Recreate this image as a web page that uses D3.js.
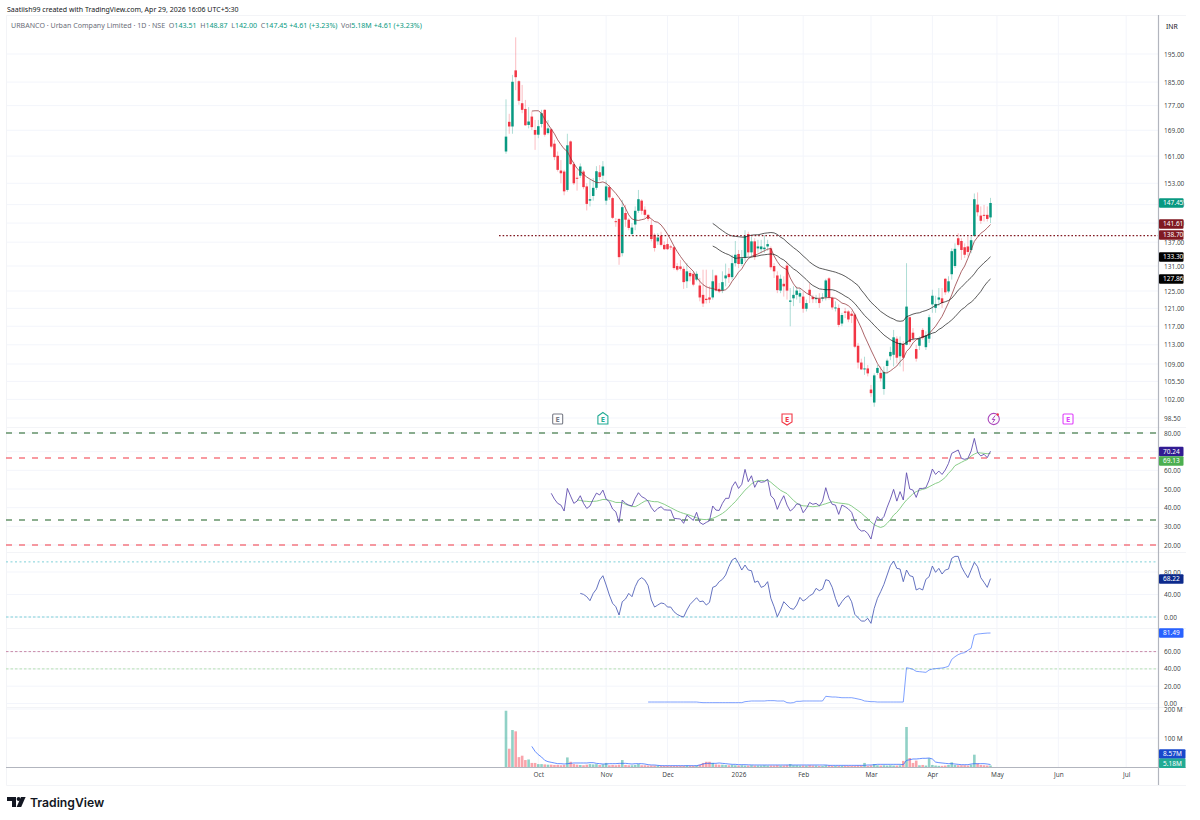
<!DOCTYPE html>
<html><head><meta charset="utf-8">
<script src="https://cdn.jsdelivr.net/npm/d3@7/dist/d3.min.js"></script>
<style>html,body{margin:0;padding:0;background:#fff}svg{display:block}text{font-family:"Noto Sans",sans-serif}</style>
</head><body><svg id="c" width="1200" height="820"></svg>
<script>
// ---- candles ----
const opens=[162.4,171.7,170.2,189.1,185.3,177.8,175.9,170.7,173.4,169.1,
167.6,171,175.6,168.1,169.3,164.8,161.1,156.7,156.4,151.1,
165.5,158.6,154.6,155.2,156.4,152.1,148.1,149.4,151.7,156.2,
155.2,148.1,151.9,148.8,142.5,143.1,134.2,144.7,142.9,139.1,
141.6,145.3,148.1,145.6,144.2,141.5,138.9,137.2,138.7,136.3,
136.5,135.9,135.7,131,130.9,130.3,127.3,129.3,129.1,127.7,
126.3,124.1,123.2,123.5,123.5,128.7,125.5,125.1,128,129.1,
128.3,131.7,134,131.5,133.1,139.1,134.4,137.2,135.4,135.2,
135.2,135.9,135.4,131,128.7,125.1,126.7,131.1,122.5,123.3,
124.1,123.7,123.7,120.9,125.3,123.6,123.1,123.2,123.2,123.5,
128,123.4,121,121.1,117.6,120.3,120.3,119.8,119.6,112.8,
109.3,107.9,108.1,103.9,101.4,107.2,107.2,104,108.6,110.6,
110.9,114.3,110.6,113.2,113,119,115.6,112.1,112.8,116.2,
112.5,114.3,121.9,121.1,123,123.3,127.9,124.9,129,131,
138,137.3,135.7,135.9,135,138.6,147,144,144.2,144.2,143.51];
const highs=[179.1,174.3,187.5,201.2,185.7,184,178.9,176.5,175,172.3,
172.3,175.6,175.8,172.3,169.6,166,162.4,159.8,156.9,167.9,
165.8,159.3,156.9,158.8,156.9,153,154,154.5,158,158.3,
159.5,153.8,152.5,149.2,143.3,143.3,148.3,146.9,143.3,142,
146.5,151.1,148.5,146.5,144.4,142.9,139.3,139.3,139.7,137.2,
138,136.3,135.9,131.7,132.5,130.9,131.7,129.9,129.7,129.7,
128.1,130.1,130.1,126.1,130.1,128.9,126.9,129.7,131.6,130.5,
133.8,137.3,135,135,140.1,139.7,138.4,138,137.6,137.6,
138.8,137.6,135.9,131.7,129.7,128.9,128.5,132.1,125.7,126.1,
126.1,125.7,124.9,123,126.9,124.1,124.1,124.5,124.5,127.9,
128.3,123.7,122.6,121.9,120,121.1,120.6,120.4,120,113.4,
110.1,110.5,108.8,104.8,107.1,108.8,108.5,108.5,110.1,112.6,
116.2,114.8,114.8,113.8,131.7,119.2,116.6,113,114.8,116.6,
115.9,119.6,125.3,123.9,125.7,125.7,128.1,128.5,135.4,136.7,
139.3,138,136.7,138.4,138.4,150.1,150.4,146.5,146.9,146.5,148.87];
const lows=[161.7,167.9,167.9,182.2,177.3,174.5,170.4,169.6,169.1,162.9,
166.5,169.9,167,167.6,163.4,159.8,156.4,153,149.6,150.6,
158.3,152.5,150.9,154.5,151.3,145.4,146.5,148.1,151.1,153.8,
154,146.9,148.3,143.1,141,131.3,133.4,141,140.1,138.6,
140.1,144.7,144.3,143.4,142.5,137.2,134.6,136.3,135.9,135,
135,135,130.1,129.7,129.9,125.5,125.7,127.3,126.1,127.3,
122.6,121.3,122.1,122.2,123,124.9,124.5,124.5,126.1,126.9,
127.7,130.9,130.5,131,132.1,133.4,133.2,132.5,134.3,134.2,
134.3,134.8,130.1,128.1,124.5,124.5,123.7,123,117,121.5,
123,122.2,120,120.3,122.2,122.2,122.2,121.1,122.6,122.8,
123,120.7,120.3,116.8,117,118.8,117.9,117.7,112.3,108.1,
107.8,106.8,106.5,102.5,100.6,106.8,105.5,102.9,107.1,109.8,
108.5,109.1,108.5,107.5,112.9,113,113.8,109.5,111.9,114.1,
111.9,113.4,120,120,121.5,121.1,124.1,124.5,127.7,130.5,
135.9,132.5,133,133.4,134.2,138.4,143.8,141.8,142.4,142.4,142];
const closes=[167,170.2,185.1,186.7,178.6,175.6,170.6,171.8,170,167.6,
170.3,174.5,167.6,169.6,163.9,160.7,156.9,155.9,150.7,164.3,
158.6,153,154.3,157.9,151.9,147.2,148.5,151.7,156.5,154.8,
157.9,152.1,149,143.4,142.3,133.2,146.3,142.9,140.7,140.8,
145.3,148.5,145.3,144.2,143.1,137.8,135.5,138.2,136.3,135.2,
135.2,135.7,130.5,130.1,130.3,127.1,129.7,128.5,126.5,129.1,
123.5,122.1,122.9,123,127.3,125.1,124.9,127.1,128.7,128.3,
131.7,133.8,131.5,132.9,138.6,134.4,137.2,133.2,135.9,135.9,
135.6,136.5,130.7,129.7,125.2,127.9,126.1,125.1,122.8,124.1,
125.1,124.5,120.9,122.2,124.1,123.1,123.4,122.2,123.5,127.5,
123.5,121.2,121.2,117.3,119.5,120,118.5,119.3,112.6,109.3,
107.9,108.1,107.1,103.2,106.7,108.2,106.1,107.4,109.7,111.5,
114.6,110.3,113.4,110.3,121.4,113.6,114.3,110.1,114.3,114.5,
115,119,123.9,122,123.5,122.2,124.7,127.3,134.7,135.3,
136.3,135,133.8,134.5,137.5,148.5,144.9,142.6,144,143.1,147.45];
const volumes=[194,63,127.5,123,34,39,24,26,14,14,
10,10,9,8,8,7,7,6,7,33,
18,10,8,7,6,8,10,9,10,7,
9,14,6,7,6,8,24,7,6,6,
7,10,6,6,5,5,5,5,4,4,
4,4,4,4,4,4,5,4,4,5,
8,14,18,18,14,9,8,8,7,6,
7,6,5,6,5,5,6,5,5,5,
6,5,5,5,6,5,5,6,10,6,
6,5,5,5,6,5,5,4,4,6,
5,4,4,4,4,4,4,4,4,5,
5,14,4,5,10,6,5,6,5,6,
5,5,6,21,138,31,14,22,6,7,
5,30,7,5,4,4,5,7,16,7,
6,6,6,5,8,42.5,12,7,6,5,5.18];

// ---- overlays (first value belongs to candle number given by *First, 1-based) ----
const fastMaFirst=9;
const fastMa=[175.2,175.3,175.3,174.5,172.5,170.9,169.4,167.9,166,164.5,
163.2,162.4,160.4,158.8,157.3,156.4,155.6,154.8,154.2,153.7,
153.2,153.2,153.4,153,152.1,151.1,150.1,148.9,147.6,146,
144.2,143.1,142.8,142.7,142.9,143.1,143.8,143.1,142.4,142.2,
141.5,140.4,139.1,137.6,136,134.6,133.4,132.3,131.3,130.5,
129.7,128.3,127.3,126.5,126,125.7,125.6,125.3,125.1,125.1,
125.3,126,127.3,128.3,129.5,130.3,131.7,132.8,133.4,133.7,
134,134.4,134.8,135.2,135.4,133.5,132.1,131,130.5,130.1,
128.1,126.7,125.7,125.7,125.1,124.5,124.1,123.6,123.3,123.3,
123.4,123.4,123.5,123.4,123.3,122.8,122.2,122,121.6,120.9,
119.6,118.1,116.6,114.9,113.4,111.9,110.5,109.1,108.1,107.2,
107.2,107.6,108.1,108.6,109.5,110.1,111.6,112.3,113.4,114.1,
114.3,114.6,114.9,115.4,116.2,117,118.1,119.2,120.7,122.3,
124.1,126.1,127.9,129.7,131,132.9,135,137.2,138.3,139.3,139.9,140.7,141.61];
const slowFirst=65;
const slowUpper=[141.9,141.3,140.6,140,139.4,138.9,138.6,138.5,138.4,138.3,
138.3,138.6,138.8,138.9,138.9,139.1,139.3,139.4,139.5,139.4,
139,138.3,137.8,137,136.3,135.6,135,134.3,133.5,132.8,
132,131.4,130.9,130.5,130.3,130.1,129.9,129.7,129.5,129.2,
128.9,128.5,128,127.5,126.9,126.3,125.2,124.3,123.3,122.4,
121.7,121,120.3,119.8,119.3,118.9,118.6,118.2,118.1,118.2,
119.1,119.4,119.7,119.9,120,120.3,120.5,120.8,121.2,121.7,
121.9,122.3,122.5,122.8,123.3,124.2,125.2,125.9,126.7,127.5,
128.2,129.1,130.2,131,131.8,132.5,133.3];
const slowLower=[136,135.6,135,134.5,134.1,133.8,133.3,132.9,133,133.1,
133.1,133.2,133.2,133.4,133.5,133.7,133.8,133.9,134,133.9,
133.5,132.9,132.5,131.8,131,130.3,129.8,129.1,128.4,127.7,
126.9,126.3,125.9,125.5,125.4,125.3,125.3,125.3,125.1,124.7,
124.3,123.8,123.4,122.8,122.1,121.2,120.3,119.4,118.7,118,
117.2,116.5,115.8,115.1,114.6,114.1,113.7,113.4,113.2,113.1,
113.5,114,114.2,114.3,114.4,114.7,114.9,115.2,115.5,115.7,
116.3,116.7,117.3,117.8,118.4,119.1,119.9,120.7,121.2,121.9,
122.4,123.1,124,124.9,126.1,127.1,127.86];
const supportLevel=138.70;

// ---- RSI ----
const rsiFirst=15;
const rsi=[47.7,44.6,42.3,41.4,38.2,50.3,46.2,42.3,43.5,46.4,
42.3,39.6,40.9,44.6,47.8,46.8,49.4,44.6,43.2,39.3,
37.8,32.1,44.1,42.3,41.4,40.9,45,48,45.9,45,
43.5,40,37.8,39.6,40.5,38.9,38.7,38.7,34.3,34.1,
33.9,31.6,36,34.6,33.2,37.5,32.1,31,32.1,33,
40.9,38.7,38.5,42.3,45,45,51.2,53.9,50.3,52.5,
60.5,53.9,57.1,50.9,54.3,53.6,53.9,55.2,46.4,44.6,
39.1,43.2,46.4,41.4,38.2,39.6,42,41.8,37.3,39.6,
42.8,41.8,42.3,41,43.5,50.7,45,41.8,41.4,36.4,
41.4,40.5,39.3,37.5,32.5,28.9,27.5,27.7,26.2,23.2,
30.7,35.2,33.4,35.2,40.2,44.6,49.8,43.5,48.6,44.1,
58.7,50,49.4,45.5,50.3,50.3,50.7,54.8,60.7,57.8,
59.6,57.8,60.2,63.7,69.1,70,70.9,66.4,65.9,66.4,
70.3,77.1,69.5,67.7,68.6,66.8,70.24];
const rsiMaFirst=23;
const rsiMa=[44.1,43.9,43.5,43.4,43.2,43.4,43.5,43.9,44.4,44.3,
43.9,43.4,42.8,42.8,42.7,41.8,41.2,40.7,40.5,41.4,
42.5,43.5,43.9,43.4,43.2,43.2,42.5,41.8,40.9,40,
39.1,38.2,37.5,36.9,36.4,35.9,35.2,34.6,33.9,33.7,
33.6,33.9,34.3,35,35.9,36.9,38.2,39.8,41.6,43.2,
45.3,47.3,49.4,51,52.7,53.9,54.4,54.6,54.4,54.8,
53.6,52.1,50.7,49.3,48.4,47.5,45.7,43.9,42.5,41.4,
41,40.9,40.7,40.5,40.7,41,41.6,42.1,42.7,43.2,
42.8,42.5,42.3,42.1,41.8,40.9,39.6,38.4,37.1,35.5,
34.1,32.3,30.9,30,29.4,30,31.6,33.6,36,37.5,
39.6,42,44.1,45.7,47.5,48.6,49.3,49.8,50.3,51.2,
52.1,53,53.6,54.8,56.2,58.4,60.2,62.5,63.4,64.3,
65.2,65.9,67.7,68.7,69.5,69.3,69.1,68.9,69.13];
const rsiBandsGreen=[80,33.4];
const rsiBandsRed=[66.6,20];

// ---- second oscillator ----
const oscFirst=24;
const osc=[42,40.2,36.1,29,42,49.7,65.7,73.4,56.9,39.1,
24.3,18.3,3.5,27.2,32,42,36.1,53.9,65.7,69.9,
65.7,55.7,30.2,17.7,21.3,24.9,23.7,17.7,17.7,9.4,
4.7,1.7,0,12.4,22.5,28.4,34.3,27.2,28.4,21.3,
26,52.7,55.1,62.8,66.9,74.6,89.4,101.3,104.9,95.4,
83.5,92.4,83.5,82.3,61.6,64,52.7,55.1,62.8,33.2,
18.3,0.5,12.4,27.2,21.3,15.4,13.6,21.3,34.9,28.4,
32,37.9,40.9,50.9,46.8,49.7,66.3,64.6,52.7,33.2,
18.3,27.2,34.3,37.9,27.2,4.7,-1.2,-7.2,-7.2,-2.4,
-11.3,15.4,33.2,45,58,74.6,91.2,99.5,86.5,85.3,
62.8,83.5,73.4,71.7,48,50.9,48,66.9,71.7,90.6,
79.4,86.5,76.4,83.5,85.3,104.3,107.8,107.8,89.4,78.8,
69.9,83.5,97.2,89.4,69.9,61.6,52.7,68.22];
const oscLevels=[98,0];

// ---- third oscillator ----
const strengthFirst=45;
const strength=[1.7,1.7,1.7,1.7,1.7,1.7,1.7,1.7,1.7,1.7,
1.7,1.7,1.7,1.7,1.7,1.7,1.3,1,1,1,
1,1,1,1,1,1,1,1,1,1,
2.1,2.5,2.9,2.9,2.9,2.9,2.9,3.3,3.3,3.3,
2.9,2.9,2.9,1,0.6,1,2.5,2.5,2.9,2.9,
2.9,2.9,2.9,2.9,2.9,8.3,7.9,7.5,7.5,7.1,
6.7,6.7,6.7,6.7,6,5.2,4.4,2.9,2.5,2.1,
2.1,1.7,1.7,1.7,1.7,1.7,1.7,1.7,1.7,1.7,
41.4,40.6,39.5,37.2,36.8,36.4,36,38.7,39.9,40.3,
40.7,41,41.8,43,51,54.1,56.5,58,58.8,61.5,
63.8,79.2,80.3,80.7,81.1,81.4,81.49];

// ---- volume average ----
const volMaFirst=9;
const volMa=[71,54,42.5,34.5,23,18.4,16.1,13.8,11.5,11.5,
10.3,11.5,12.6,13.8,13.8,13.8,13.8,13.8,14.9,14.9,
12.6,11.5,10.3,10.3,11.5,11.5,11.5,12.6,12.6,12.6,
11.5,10.3,11.5,11.5,11.5,10.3,8,6.9,6.9,5.7,
4.6,4.6,4.6,4.6,4.6,4.6,4.6,4.6,4.6,4.6,
4.6,4.6,6.9,10.3,12.6,12.6,12.6,12.6,13.8,12.6,
11.5,10.3,9.2,9.2,8,8,8,7.5,7.2,7,
6.9,6.9,6.9,6.9,6.9,6.9,6.9,6.9,6.9,6.9,
6.9,6.9,6.9,6.9,6.9,6.9,6.9,6.9,6.9,6.9,
6.9,6.9,5.7,5.7,5.7,5.7,5.7,5.7,5.7,5.7,
5.7,5.7,5.7,5.7,6.9,6.9,8,9.2,9.2,9.2,
9.2,9.2,9.2,9.2,9.2,8,23,25,27.6,27.6,
28.7,30,30,31,27.6,17,15,13.8,12.6,11.5,
11.5,10.3,9.2,8,8,8,10.3,11.5,11.5,11.5,11.5,10.3,8.57];

// ---- axis ticks ----
const priceTicks=[195,185,177,169,161,153,147,142,137,131,125,121,117,113,109,105.5,102,98.5];
const rsiTicks=[80,70,60,50,40,30,20];
const oscTicks=[80,40,0];
const strengthTicks=[60,40,20,0];
const volTicks=[200,100];
const monthBars=[10,31,50,72,92,113,132,152,171,192];
const monthLabels=["Oct","Nov","Dec","2026","Feb","Mar","Apr","May","Jun","Jul"];
const earningBars=[16,30,87,151,174];

const UP="#089981",DOWN="#f23645",GRID="#f3f5fb",AXIS="#b2b5be",INK="#131722";
const svg=d3.select("#c");
const R=1158.5,L=6;

const x=d3.scaleLinear().domain([0,150]).range([506,990.5]);
const yP=d3.scaleLog().domain([195,98.5]).range([54,418]);
const yR=d3.scaleLinear().domain([20,80]).range([545,433]);
const yO=d3.scaleLinear().domain([0,80]).range([617,572]);
const yS=d3.scaleLinear().domain([0,60]).range([703.5,651.6]);
const yV=d3.scaleLinear().domain([0,100]).range([767,738]);

// frame + grid
const grid=svg.append("g").attr("stroke",GRID).attr("stroke-width",1);
monthBars.forEach(m=>grid.append("line").attr("x1",x(m)).attr("x2",x(m)).attr("y1",15).attr("y2",767));
[[yP,priceTicks],[yR,rsiTicks],[yO,oscTicks],[yS,strengthTicks],[yV,volTicks]].forEach(([s,t])=>
  t.forEach(v=>grid.append("line").attr("x1",L).attr("x2",R).attr("y1",s(v)).attr("y2",s(v))));
const frame=svg.append("g").attr("stroke","#f3f4f7").attr("stroke-width",1).attr("fill","none");
frame.append("path").attr("d","M6.5,785.5V15.5H1186M6.5,785.5H1186");
[427.5,552.5,628.5,707.5].forEach(v=>frame.append("line").attr("x1",L).attr("x2",1186).attr("y1",v).attr("y2",v));

// RSI bands
function hline(y,color,dash,w,x1){svg.append("line").attr("x1",x1||L).attr("x2",R).attr("y1",y).attr("y2",y)
  .attr("stroke",color).attr("stroke-width",w).attr("stroke-dasharray",dash);}
rsiBandsGreen.forEach(v=>hline(yR(v),"#1b5e20","6 7",1.2));
rsiBandsRed.forEach(v=>hline(yR(v),"#f23645","6 7",1.2));
oscLevels.forEach(v=>hline(yO(v),"#7fd0d8",v?"2 2.5":"2.5 2",1));
hline(yS(60),"#c98aa8","2.5 2",1);
hline(yS(40),"#b7e0b3","2.5 2",1);

// candles
const idx=d3.range(closes.length);
const color=i=>closes[i]>=opens[i]?UP:DOWN;
const bw=2.5;
svg.append("g").selectAll("line").data(idx).join("line")
  .attr("x1",i=>x(i)).attr("x2",i=>x(i)).attr("y1",i=>yP(highs[i])).attr("y2",i=>yP(lows[i]))
  .attr("stroke",color).attr("stroke-opacity",.33).attr("stroke-width",1);
svg.append("g").selectAll("rect").data(idx).join("rect")
  .attr("x",i=>x(i)-bw/2).attr("width",bw)
  .attr("y",i=>yP(Math.max(opens[i],closes[i])))
  .attr("height",i=>Math.max(1,Math.abs(yP(opens[i])-yP(closes[i]))))
  .attr("fill",color);

// lines
function plot(vals,first,yScale,stroke,w,op){
  const pts=vals.map((v,k)=>[first-1+k,v]);
  svg.append("path").datum(pts)
    .attr("d",d3.line().x(d=>x(d[0])).y(d=>yScale(d[1])))
    .attr("fill","none").attr("stroke",stroke).attr("stroke-width",w).attr("stroke-opacity",op||1)
    .attr("stroke-linejoin","round");
}
plot(fastMa,fastMaFirst,yP,"#8c2a30",.9,.8);
plot(slowUpper,slowFirst,yP,"#1a1a1a",.9,.8);
plot(slowLower,slowFirst,yP,"#1a1a1a",.9,.8);
hline(yP(supportLevel),"#801922","1.6 2",1.3,499);

plot(rsiMa,rsiMaFirst,yR,"#7cc87c",1,.9);
plot(rsi,rsiFirst,yR,"#5b47ab",1,.85);
plot(osc,oscFirst,yO,"#4a5ab5",1,.85);
plot(strength,strengthFirst,yS,"#2962ff",1,.6);

// volume
svg.append("g").selectAll("rect").data(idx).join("rect")
  .attr("x",i=>x(i)-1.3).attr("width",2.6)
  .attr("y",i=>yV(volumes[i])).attr("height",i=>yV(0)-yV(volumes[i]))
  .attr("fill",color).attr("fill-opacity",.45);
plot(volMa,volMaFirst,yV,"#2962ff",.9,.8);

// axis lines
svg.append("line").attr("x1",R).attr("x2",R).attr("y1",15).attr("y2",785).attr("stroke",AXIS).attr("stroke-width",1.2);
svg.append("line").attr("x1",L).attr("x2",1186).attr("y1",767.5).attr("y2",767.5).attr("stroke",AXIS).attr("stroke-width",1.2);

// right axes
function rightAxis(s,t,f){
  const g=svg.append("g").attr("transform",`translate(${R},0)`)
    .call(d3.axisRight(s).tickValues(t).tickFormat(f).tickSize(0).tickPadding(5.5));
  g.select(".domain").remove();
  g.selectAll("text").attr("font-size",6.5).attr("fill",INK).attr("fill-opacity",.85).attr("font-family",'"Noto Sans",sans-serif');
}
const f2=d3.format(".2f");
rightAxis(yP,priceTicks,f2);
rightAxis(yR,rsiTicks,f2);
rightAxis(yO,oscTicks,f2);
rightAxis(yS,strengthTicks,f2);
rightAxis(yV,volTicks,d=>d+" M");

// bottom axis
const ax=svg.append("g").attr("transform","translate(0,767)")
  .call(d3.axisBottom(x).tickValues(monthBars).tickFormat((d,i)=>monthLabels[i]).tickSize(0).tickPadding(5));
ax.select(".domain").remove();
ax.selectAll("text").attr("font-size",6.5).attr("fill",INK).attr("fill-opacity",.85).attr("font-family",'"Noto Sans",sans-serif');

// price tags
const tags=[["147.45",203,UP],["141.61",224,"#801922"],["138.70",235,"#801922"],["133.30",257,"#000"],["127.86",279,"#000"],
["70.24",451.5,"#311b92"],["69.13",461,"#4caf50"],["68.22",579,"#0d2a8c"],["81.49",633,"#2962ff"],["8.57M",754,"#1848cc"],["5.18M",763.3,"#22ab94"]];
tags.forEach(([t,y,c])=>{
  const w=t.endsWith("M")?26.5:24.5;
  svg.append("rect").attr("x",R+.5).attr("y",y-4.7).attr("width",w).attr("height",9.4).attr("rx",1).attr("fill",c);
  svg.append("text").attr("x",1163).attr("y",y+2.3).attr("font-size",6.5).attr("fill","#fff").text(t);
});
svg.append("text").attr("x",1166).attr("y",28.5).attr("font-size",6.8).attr("fill",INK).text("INR");

// earnings + event icons
const ev=[["#787b86","sq"],["#22ab94","house"],["#f23645","shield"],["#ab47bc","bolt"],["#e040fb","sq"]];
earningBars.forEach((b,i)=>{
  const cx=x(b),cy=419,[c,k]=ev[i];
  const g=svg.append("g").attr("transform",`translate(${cx},${cy})`).attr("fill","none").attr("stroke",c).attr("stroke-width",1.1);
  if(k==="sq") g.append("rect").attr("x",-5).attr("y",-5).attr("width",10).attr("height",10).attr("rx",1);
  if(k==="house") g.append("path").attr("d","M-5,-3L0,-6.5L5,-3V5H-5Z");
  if(k==="shield") g.append("path").attr("d","M-5,-5H5V3L0,6L-5,3Z");
  if(k==="bolt"){g.append("circle").attr("r",5.6);
    g.append("path").attr("d","M1.5,-3.5L-1.5,0.5H1.2L-1,3.5").attr("stroke-width",1);
    g.append("circle").attr("cx",4).attr("cy",-4.5).attr("r",1.2).attr("fill","#f23645").attr("stroke","none");}
  else g.append("text").attr("text-anchor","middle").attr("y",2.7).attr("font-size",7.5).attr("font-weight",700)
    .attr("fill",c).attr("stroke","none").text("E");
});

// header
svg.append("text").attr("x",7).attr("y",12).attr("font-size",7).attr("fill",INK).text("Saatiish99 created with TradingView.com, Apr 29, 2026 16:06 UTC+5:30");
const head=svg.append("text").attr("x",11).attr("y",27.8).attr("font-size",7.08);
const gray="#6a6d78";
[["URBANCO · Urban Company Limited · 1D · NSE  ",gray],["O",gray],["143.51  ",UP],["H",gray],["148.87  ",UP],["L",gray],["142.00  ",UP],["C",gray],["147.45 +4.61 (+3.23%)  ",UP],["Vol",gray],["5.18M +4.61 (+3.23%)",UP]]
 .forEach(([t,c])=>head.append("tspan").attr("fill",c).attr("xml:space","preserve").text(t));

// logo
const lg=svg.append("g").attr("fill",INK);
lg.append("path").attr("d","M7,797H16V807H12V801H7Z");
lg.append("circle").attr("cx",18.6).attr("cy",799).attr("r",2);
lg.append("path").attr("d","M21,797H25.6L21.2,807H16.6Z");
svg.append("text").attr("x",30).attr("y",806.5).attr("font-size",12.2).attr("font-weight",600).attr("fill",INK).style("font-family","Inter,sans-serif").text("TradingView");
</script></body></html>
